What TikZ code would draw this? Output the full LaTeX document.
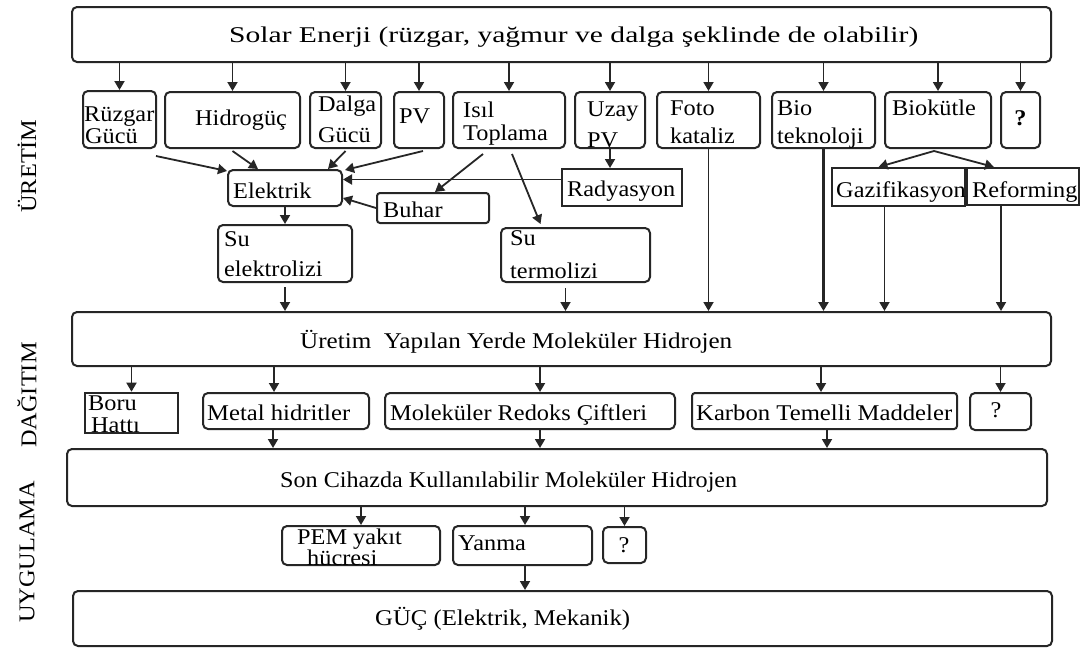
\documentclass[tikz,border=0pt]{standalone}
\usepackage{fontspec}
\usepackage{graphicx}
\setmainfont{Liberation Serif}[FakeStretch=1.08]
\usetikzlibrary{arrows.meta,calc}
\newcommand\fs{\fontsize{22.5}{24}\selectfont}
\newcommand\tw[2]{\resizebox{#1pt}{\height}{#2}}
\newcommand\bx[6][]{\node[box,#1,minimum width={#5-#3},minimum height={#6-#4}] (#2) at ({(#3+#5)/2},{(#4+#6)/2}) {};}
\begin{document}
\begin{tikzpicture}[x=1pt,y=-1pt,
  box/.style={draw=black!85, line width=2pt, rounded corners=5pt, inner sep=0pt},
  sq/.style={rounded corners=0pt},
  txt/.style={inner sep=0pt, anchor=base west, font=\fs},
  ctxt/.style={inner sep=0pt, anchor=base, font=\fs},
  arr/.style={draw=black!85, line width=1.8pt, -{Triangle[length=9pt,width=10pt]}},
  sidelab/.style={rotate=90, inner sep=0pt, font=\fs}]
\fill[white] (0,0) rectangle (1081,648);
\useasboundingbox (0,0) rectangle (1081,648);

% side labels
\node[sidelab] (labA) at (27,166) {ÜRETİM};
\node[sidelab] (labB) at (27,395) {DAĞITIM};
\node[sidelab] (labC) at (27,552) {UYGULAMA};

% row 1
\bx{solar}{72}{7}{1051}{62}
\node[txt] (solarT) at (229,42) {\tw{689}{Solar Enerji (rüzgar, yağmur ve dalga şeklinde de olabilir)}};

% row 2
\bx{ruz}{83}{91}{156}{148}
\node[txt] (ruzA) at (84,121) {Rüzgar};
\node[txt] (ruzB) at (85,143) {Gücü};
\bx{hid}{165}{92}{300}{148}
\node[txt] (hidT) at (195,125) {Hidrogüç};
\bx{dal}{310}{92}{381}{148}
\node[txt] (dalA) at (318,111) {Dalga};
\node[txt] (dalB) at (318,142) {Gücü};
\bx{pv}{394}{92}{444}{148}
\node[txt] (pvT) at (399,123) {PV};
\bx{isil}{453}{92}{565}{148}
\node[txt] (isilA) at (463,117) {Isıl};
\node[txt] (isilB) at (463,140) {Toplama};
\bx{uzay}{575}{92}{645}{148}
\node[txt] (uzayA) at (587,116) {Uzay};
\node[txt] (uzayB) at (587,147) {PV};
\bx{foto}{657}{92}{760}{148}
\node[txt] (fotoA) at (670,115) {Foto};
\node[txt] (fotoB) at (670,143) {kataliz};
\bx{bio}{772}{92}{875}{148}
\node[txt] (bioA) at (777,115) {Bio};
\node[txt] (bioB) at (777,143) {teknoloji};
\bx{biok}{885}{92}{991}{148}
\node[txt] (biokT) at (892,115) {Biokütle};
\bx{qa}{1001}{92}{1040}{148}
\node[ctxt] (qaT) at (1020.5,125) {\bfseries ?};

% row 3
\bx{elek}{228}{170}{342}{206}
\node[txt] (elekT) at (233,198) {Elektrik};
\bx[sq]{rad}{562}{169}{682}{206}
\node[txt] (radT) at (567,196) {Radyasyon};
\bx[rounded corners=3pt]{buhar}{377}{193}{489}{223}
\node[txt] (buharT) at (383,217) {Buhar};
\bx[sq]{gaz}{832}{168}{965}{206}
\node[txt] (gazT) at (836,197) {Gazifikasyon};
\bx[sq]{ref}{967}{168}{1079}{205}
\node[txt] (refT) at (972,197) {Reforming};

% row 4
\bx{suel}{218}{225}{352}{282}
\node[txt] (suelA) at (224,246) {Su};
\node[txt] (suelB) at (224,276) {elektrolizi};
\bx{suter}{501}{228}{650}{282}
\node[txt] (suterA) at (510,245) {Su};
\node[txt] (suterB) at (510,278) {termolizi};

% row 5
\bx{htwo}{72}{312}{1051}{366}
\node[txt] (htwoT) at (300,348) {\tw{432}{Üretim\ \ Yapılan Yerde Moleküler Hidrojen}};

% row 6
\bx[sq,line width=2.6pt]{boru}{85}{393}{178}{433}
\node[txt] (boruA) at (88,410) {Boru};
\node[txt] (boruB) at (91,432) {Hattı};
\bx{metal}{203}{393}{369}{429}
\node[txt] (metalT) at (207,420) {\tw{143}{Metal hidritler}};
\bx{redoks}{385}{393}{675}{429}
\node[txt] (redoksT) at (390,420) {\tw{257}{Moleküler Redoks Çiftleri}};
\bx[rounded corners=3pt]{karbon}{692}{393}{957}{429}
\node[txt] (karbonT) at (696,420) {\tw{256}{Karbon Temelli Maddeler}};
\bx{qb}{970}{393}{1031}{430}
\node[ctxt] (qbT) at (996,417) {?};

% row 7
\bx{son}{67}{449}{1047}{506}
\node[txt] (sonT) at (280,487) {\tw{457}{Son Cihazda Kullanılabilir Moleküler Hidrojen}};

% row 8
\bx{pem}{282}{526}{440}{565}
\node[txt] (pemA) at (297,544) {PEM yakıt};
\node[txt] (pemB) at (307,565) {hücresi};
\bx{yanma}{453}{526}{592}{565}
\node[txt] (yanmaT) at (458,550) {Yanma};
\bx{qc}{603}{527}{646}{563}
\node[ctxt] (qcT) at (624,552) {?};

% row 9
\bx{guc}{73}{591}{1052}{646}
\node[txt] (gucT) at (375,625) {\tw{255}{GÜÇ (Elektrik, Mekanik)}};

% arrows from solar
\foreach \n in {ruz,hid,dal,pv,isil,uzay,foto,bio,biok,qa}
  \draw[arr] (solar.south -| \n.north) -- (\n.north);

% into Elektrik
\draw[arr] ($(ruz.south east)+(-1,7)$) -- ($(elek.north west)+(0,2)$);
\draw[arr] ($(hid.south)+(0,2)$) -- ($(elek.north)+(-27,0)$);
\draw[arr] ($(dal.south)+(0,2)$) -- ($(elek.north)+(43,0)$);
\draw[arr] ($(pv.south)+(4,2)$) -- ($(elek.north east)+(2,1)$);
\draw[arr] ($(rad.west)+(0,-8)$) coordinate (rw) -- (elek.east |- rw);
\draw[arr] (buhar.west) -- ($(elek.south east)+(0,-9)$);
\draw[arr] ($(isil.south)+(-26,5)$) -- ($(buhar.north)+(2,0)$);
\draw[arr] ($(isil.south)+(3,5)$) -- ($(suter.north)+(-35,-3)$);
\draw[arr] (uzay.south) -- (uzay.south |- rad.north);
\draw[arr] ($(biok.south)+(-4,2)$) -- ($(gaz.north)+(-20,0)$);
\draw[arr] ($(biok.south)+(-4,2)$) -- ($(ref.north)+(-29,0)$);
\draw[arr] (elek.south) -- (suel.north);

% into H2 box
\draw[arr] ($(suel.south)+(0,4)$) coordinate (se) -- (htwo.north -| se);
\draw[arr] ($(suter.south)+(-10,5)$) coordinate (st) -- (htwo.north -| st);
\draw[arr] (foto.south) -- (htwo.north -| foto.south);
\draw[arr, line width=2.8pt] (bio.south) -- (htwo.north -| bio.south);
\draw[arr] ($(gaz.south)+(-14,0)$) coordinate (gs) -- (htwo.north -| gs);
\draw[arr] ($(ref.south)+(-22,0)$) coordinate (rs) -- (htwo.north -| rs);

% distribution
\draw[arr] (htwo.south -| boru.north) -- (boru.north);
\draw[arr] (htwo.south -| 274,0) -- (metal.north -| 274,0);
\draw[arr] (htwo.south -| 540,0) -- (redoks.north -| 540,0);
\draw[arr] (htwo.south -| 821,0) -- (karbon.north -| 821,0);
\draw[arr] (htwo.south -| qb.north) -- (qb.north);
\draw[arr] (metal.south -| 273,0) -- (son.north -| 273,0);
\draw[arr] (redoks.south -| 540,0) -- (son.north -| 540,0);
\draw[arr] (karbon.south -| 827,0) -- (son.north -| 827,0);

% application
\draw[arr] (son.south -| pem.north) -- (pem.north);
\draw[arr] (son.south -| 525,0) -- (yanma.north -| 525,0);
\draw[arr] (son.south -| qc.north) -- (qc.north);
\draw[arr] (yanma.south -| 525,0) -- (guc.north -| 525,0);
\end{tikzpicture}
\end{document}
